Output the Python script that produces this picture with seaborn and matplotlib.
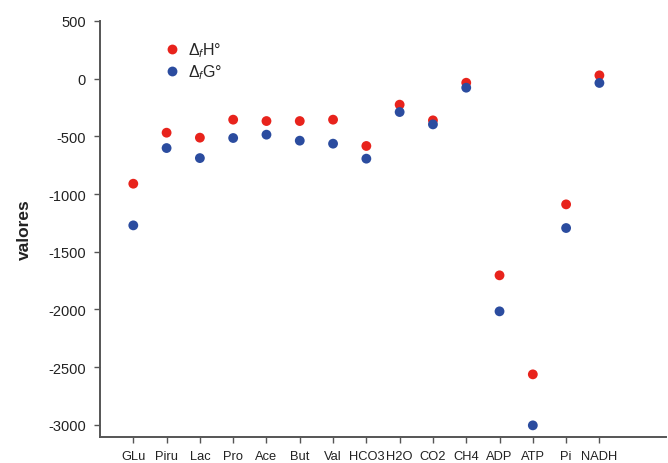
import matplotlib
matplotlib.use("Agg")
import matplotlib.pyplot as plt
import seaborn as sns
import pandas as pd

categories = ["GLu", "Piru", "Lac", "Pro", "Ace", "But", "Val", "HCO3",
              "H2O", "CO2", "CH4", "ADP", "ATP", "Pi", "NADH"]
dH = [-910, -468, -511, -355, -367, -367, -355, -583,
      -225, -361, -35, -1704, -2562, -1089, 29]
dG = [-1271, -601, -688, -514, -485, -537, -563, -693,
      -289, -396, -78, -2016, -3004, -1294, -37]
series_names = [r"$\Delta_f$H°", r"$\Delta_f$G°"]
colors = ["#e8231c", "#2b4c9f"]
y_ticks = [500, 0, -500, -1000, -1500, -2000, -2500, -3000]

sns.set_theme(style="white")
plt.rcParams["font.family"] = ["Liberation Sans", "DejaVu Sans"]
plt.rcParams["axes.unicode_minus"] = False
plt.rcParams["mathtext.fontset"] = "custom"
plt.rcParams["mathtext.rm"] = "Liberation Sans"
plt.rcParams["mathtext.it"] = "Liberation Sans:italic"
plt.rcParams["mathtext.bf"] = "Liberation Sans:bold"

df = pd.DataFrame({
    "cat": categories * 2,
    "valores": dH + dG,
    "serie": [series_names[0]] * len(categories) + [series_names[1]] * len(categories),
})

fig = plt.figure(figsize=(6.68, 4.64), dpi=100)
ax = fig.add_axes([0.1497, 0.056, 0.8473, 0.8966])
sns.scatterplot(data=df, x="cat", y="valores", hue="serie",
                palette=dict(zip(series_names, colors)), s=50,
                edgecolor="none", ax=ax)

ax.set_xlim(-1, 16)
ax.set_ylim(-3105, 500)
ax.set_yticks(y_ticks)
ax.set_xlabel("")
ax.set_ylabel("valores", fontsize=12.5, fontweight="bold", color="#222222", labelpad=12)

for side in ["top", "right"]:
    ax.spines[side].set_visible(False)
for side in ["left", "bottom"]:
    ax.spines[side].set_color("#555555")
    ax.spines[side].set_linewidth(1.4)

ax.tick_params(axis="both", which="major", direction="out", length=4, width=1,
               color="#555555", labelcolor="#222222", bottom=True, left=True)
ax.tick_params(axis="y", labelsize=10.5, pad=6)
ax.tick_params(axis="x", labelsize=9.3, pad=5)

leg = ax.legend(loc="upper left", bbox_to_anchor=(0.087, 0.968), frameon=False,
                handletextpad=0.0, borderaxespad=0, labelspacing=0.2,
                fontsize=11.5, markerscale=1.0)

fig.savefig("out.png", dpi=100)
